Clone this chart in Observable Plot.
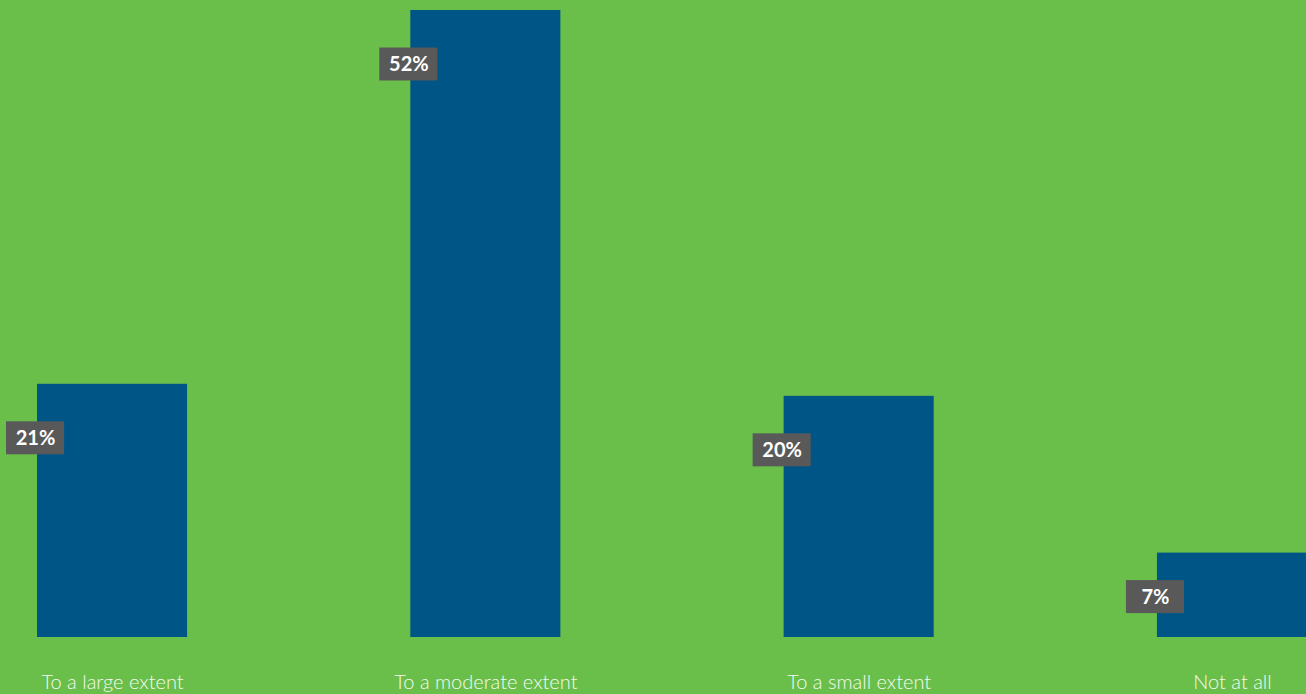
<!DOCTYPE html>
<html>
<head>
<meta charset="utf-8">
<script src="https://cdn.jsdelivr.net/npm/d3@7"></script>
<script src="https://cdn.jsdelivr.net/npm/@observablehq/plot@0.6"></script>
<style>
  html, body { margin: 0; padding: 0; background: #6abf4b; overflow: hidden; }
  #chart svg { display: block; overflow: visible; }
</style>
</head>
<body>
<div id="chart"></div>
<script>
const categories = ["To a large extent", "To a moderate extent", "To a small extent", "Not at all"];
const values = [21, 52, 20, 7];
const valueLabels = ["21%", "52%", "20%", "7%"];

const data = categories.map((c, i) => ({category: c, value: values[i], label: valueLabels[i]}));
const tall = data.filter(d => d.value >= 10);
const short = data.filter(d => d.value < 10);

const labelMarks = (rows, dy) => [
  Plot.barY(rows, {
    x: "category", y1: "value", y2: "value",
    fill: "#595959",
    insetLeft: -31, insetRight: 123, insetTop: -16.5, insetBottom: -16.5,
    dy
  }),
  Plot.text(rows, {
    x: "category", y: "value", text: "label",
    fill: "white", fontSize: 20, fontWeight: 700,
    fontFamily: "Lato, sans-serif",
    dx: -77, dy
  })
];

const chart = Plot.plot({
  width: 1306,
  height: 694,
  marginTop: 10,
  marginBottom: 57,
  marginLeft: 37,
  marginRight: 0,
  style: {background: "#6abf4b", fontFamily: "Lato, sans-serif"},
  x: {domain: categories, range: [37, 1307], paddingInner: 0.598, paddingOuter: 0, round: false, label: null},
  y: {domain: [0, 52], range: [637, 10], axis: null},
  marks: [
    Plot.barY(data, {x: "category", y: "value", fill: "#005587"}),
    ...labelMarks(tall, 54),
    ...labelMarks(short, 44),
    Plot.axisX({
      tickSize: 0, tickPadding: 37, fontSize: 20, fontWeight: 300,
      fill: "#f4faf1", label: null
    })
  ]
});
document.getElementById("chart").append(chart);
</script>
</body>
</html>
